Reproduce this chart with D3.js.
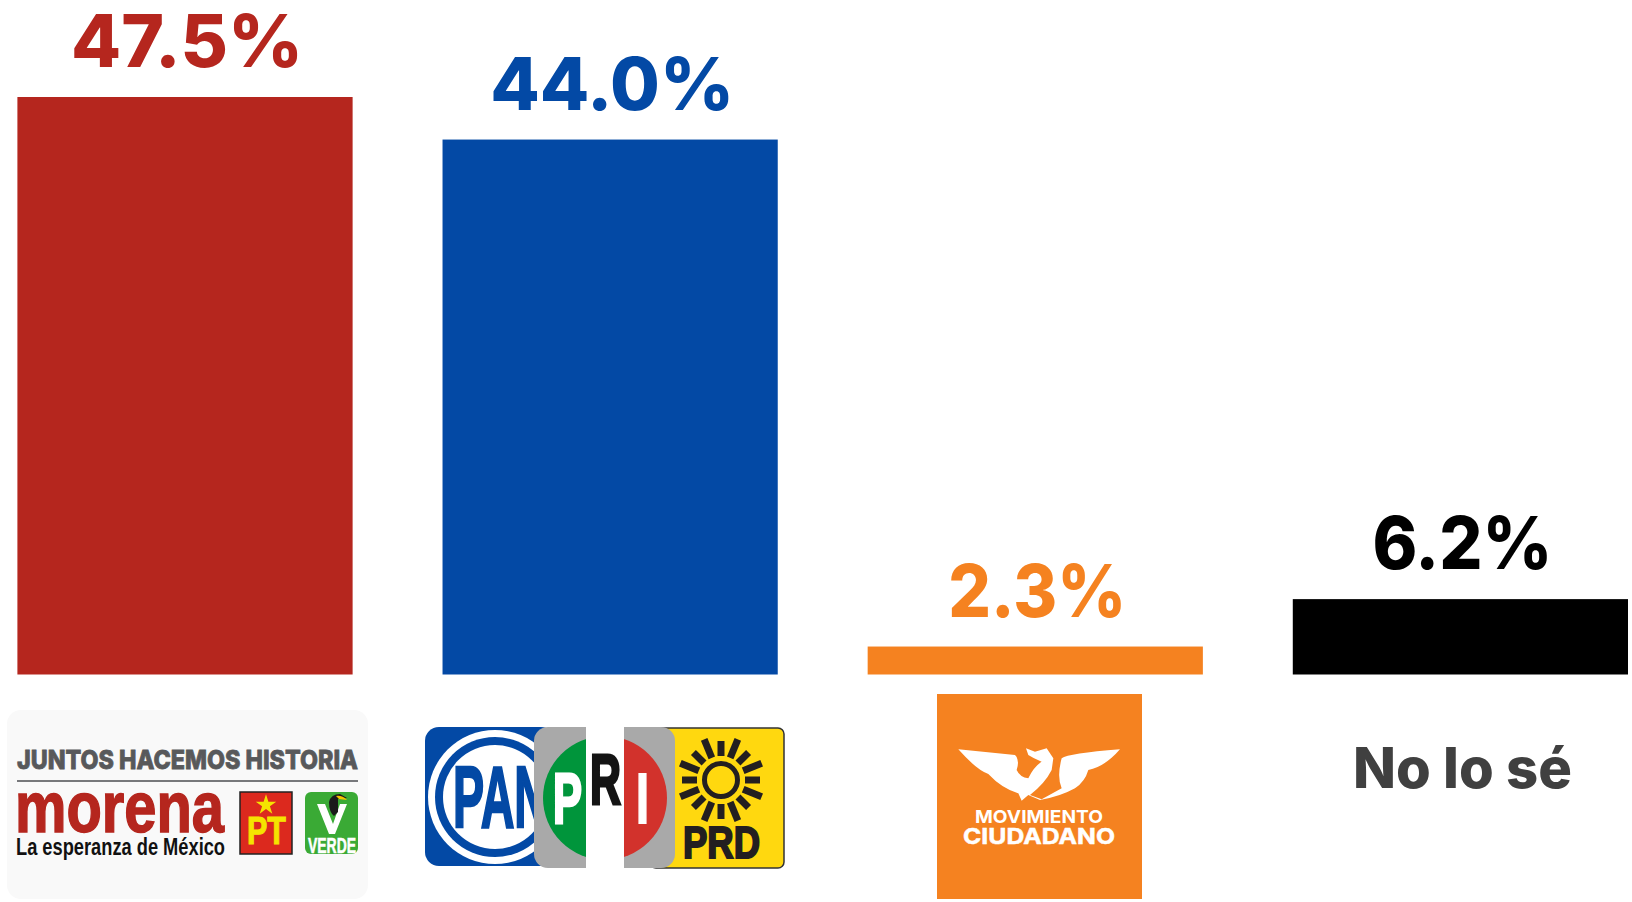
<!DOCTYPE html>
<html><head><meta charset="utf-8">
<script src="https://cdn.jsdelivr.net/npm/d3@7/dist/d3.min.js"></script>
<style>html,body{margin:0;padding:0;background:#fff;overflow:hidden}svg{display:block}</style>
</head><body><svg id="c" width="1632" height="902"></svg>
<script>
const categories = ["Juntos Hacemos Historia","PAN-PRI-PRD","Movimiento Ciudadano","No lo sé"];
const values = [47.5,44.0,2.3,6.2];
const valueLabels = ["47.5%","44.0%","2.3%","6.2%"];
const colors = ["#b5261e","#0349a5","#f58220","#000000"];

const svg = d3.select("#c");
const x = d3.scaleBand().domain(categories).range([17.4,1628]).paddingInner(0.2115).paddingOuter(0);
const y = d3.scaleLinear().domain([0,47.5]).range([674.5,97]);
const NARROW = "'Liberation Sans Narrow','Liberation Sans',sans-serif";
const WIDE = "Inter,'Open Sans',sans-serif";
const SANS = "'Liberation Sans',sans-serif";
const labelFit = [232,244,178,180];

svg.selectAll("rect.bar").data(categories).join("rect").attr("class","bar")
  .attr("x",d=>x(d)).attr("width",x.bandwidth())
  .attr("y",(d,i)=>y(values[i])).attr("height",(d,i)=>y(0)-y(values[i]))
  .attr("fill",(d,i)=>colors[i]);

svg.selectAll("text.val").data(categories).join("text").attr("class","val")
  .attr("x",d=>x(d)+x.bandwidth()/2+2).attr("y",(d,i)=>y(values[i])-30)
  .attr("text-anchor","middle").attr("font-family",WIDE).attr("font-weight",800)
  .attr("font-size",73)
  .attr("textLength",(d,i)=>labelFit[i]).attr("lengthAdjust","spacingAndGlyphs")
  .attr("fill",(d,i)=>colors[i]).text((d,i)=>valueLabels[i]);

function T(g,str,px,py,size,fill,opt={}){
  const t=g.append("text").attr("x",px).attr("y",py).attr("font-size",size).attr("fill",fill)
    .attr("font-family",opt.family||NARROW).attr("font-weight",opt.weight||700)
    .attr("text-anchor",opt.anchor||"start").text(str);
  if(opt.len) t.attr("textLength",opt.len).attr("lengthAdjust","spacingAndGlyphs");
  if(opt.bold) t.attr("stroke",fill).attr("stroke-width",opt.bold);
  return t;
}

// Logo 1: Juntos Hacemos Historia
const l1=svg.append("g");
l1.append("rect").attr("x",7).attr("y",710).attr("width",361).attr("height",189).attr("rx",14).attr("fill","#f9f9f9");
T(l1,"JUNTOS HACEMOS HISTORIA",17,769,26,"#58595b",{family:WIDE,weight:800,len:341,bold:0.8});
l1.append("rect").attr("x",17).attr("y",780).attr("width",341).attr("height",2).attr("fill","#77787b");
T(l1,"morena",15,832,72,"#b5261e",{family:SANS,len:209,bold:1.5});
T(l1,"La esperanza de México",16,855,24,"#111",{len:209});
l1.append("rect").attr("x",240).attr("y",792).attr("width",52).attr("height",62).attr("fill","#dc291e").attr("stroke","#222").attr("stroke-width",1.5);
l1.append("path").attr("transform","translate(266,805)").attr("d",d3.symbol().type(d3.symbolStar).size(130)).attr("fill","#f5e400");
T(l1,"PT",247,844,38,"#f5e400",{family:SANS,len:39,bold:1});
l1.append("rect").attr("x",305).attr("y",792).attr("width",53).attr("height",62).attr("rx",6).attr("fill","#3aaa35");
l1.append("path").attr("d","M317,804 L325,804 L333,824 L340,804 L347,804 L335,834 L329,834 Z").attr("fill","#fff");
l1.append("path").attr("d","M329,802 Q331,794 340,794 L347,798 L338,799 L338,812 L334,816 Q329,812 329,802 Z").attr("fill","#1a1a1a");
l1.append("path").attr("d","M336,796 Q342,795 347,800 L339,799 Z").attr("fill","#f5c400");
T(l1,"VERDE",308,853,22,"#fff",{len:48,bold:0.6});

// Logo 2: PAN PRI PRD
const l2=svg.append("g");
l2.append("rect").attr("x",425).attr("y",727).attr("width",130).attr("height",139).attr("rx",14).attr("fill","#0349a5");
l2.append("circle").attr("cx",495).attr("cy",797).attr("r",67).attr("fill","#fff");
l2.append("circle").attr("cx",495).attr("cy",797).attr("r",60).attr("fill","#0349a5");
l2.append("circle").attr("cx",495).attr("cy",797).attr("r",52).attr("fill","#fff");
T(l2,"PAN",453,827,88,"#0349a5",{len:95,bold:2.5});
l2.append("rect").attr("x",650).attr("y",728).attr("width",134).attr("height",140).attr("rx",6).attr("fill","#ffd80f").attr("stroke","#333").attr("stroke-width",1.5);
const sun=l2.append("g").attr("transform","translate(721,780)");
sun.append("circle").attr("r",16.5).attr("fill","none").attr("stroke","#231f20").attr("stroke-width",5);
sun.selectAll("line").data(d3.range(16)).join("line")
  .attr("x1",d=>24*Math.cos(d*Math.PI/8)).attr("y1",d=>24*Math.sin(d*Math.PI/8))
  .attr("x2",d=>(d%2?44:39)*Math.cos(d*Math.PI/8)).attr("y2",d=>(d%2?44:39)*Math.sin(d*Math.PI/8))
  .attr("stroke","#231f20").attr("stroke-width",7);
T(l2,"PRD",683,858,44,"#231f20",{family:SANS,len:77,bold:2});
l2.append("rect").attr("x",534).attr("y",727).attr("width",141).attr("height",141).attr("rx",14).attr("fill","#a9a9a9");
const arc=d3.arc().innerRadius(0).outerRadius(62);
l2.append("path").attr("transform","translate(605,798)").attr("d",arc({startAngle:Math.PI,endAngle:2*Math.PI})).attr("fill","#00953b");
l2.append("path").attr("transform","translate(605,798)").attr("d",arc({startAngle:0,endAngle:Math.PI})).attr("fill","#d2322c");
l2.append("rect").attr("x",586).attr("y",727).attr("width",38).attr("height",141).attr("fill","#fff");
T(l2,"P",553,823,70,"#fff",{len:29,bold:3});
T(l2,"R",590,804,70,"#141414",{len:31,bold:3});
T(l2,"I",636,823,70,"#fff",{len:13,bold:2});

// Logo 3: Movimiento Ciudadano
const l3=svg.append("g");
l3.append("rect").attr("x",937).attr("y",694).attr("width",205).attr("height",205).attr("fill","#f58220");
l3.append("path").attr("transform","translate(920,680) scale(0.3333)")
  .attr("d","M115,208 L285,225 Q300,240 290,270 Q300,292 325,295 Q340,262 365,245 Q340,235 325,225 L318,205 L345,215 L380,205 L400,235 L395,270 Q375,310 330,345 L365,358 L425,325 Q410,290 425,235 Q445,220 600,208 Q555,260 505,270 Q495,305 465,325 Q420,350 360,360 L325,345 L305,362 L295,340 Q245,325 205,282 Q170,270 115,208 Z")
  .attr("fill","#fff");
T(l3,"MOVIMIENTO",975,823,18,"#fff",{family:WIDE,len:128});
T(l3,"CIUDADANO",963,844,22,"#fff",{family:WIDE,len:152,bold:0.5});

// Logo 4
T(svg,"No lo sé",1353,788,56,"#404040",{family:WIDE,weight:800,len:219});
</script></body></html>
